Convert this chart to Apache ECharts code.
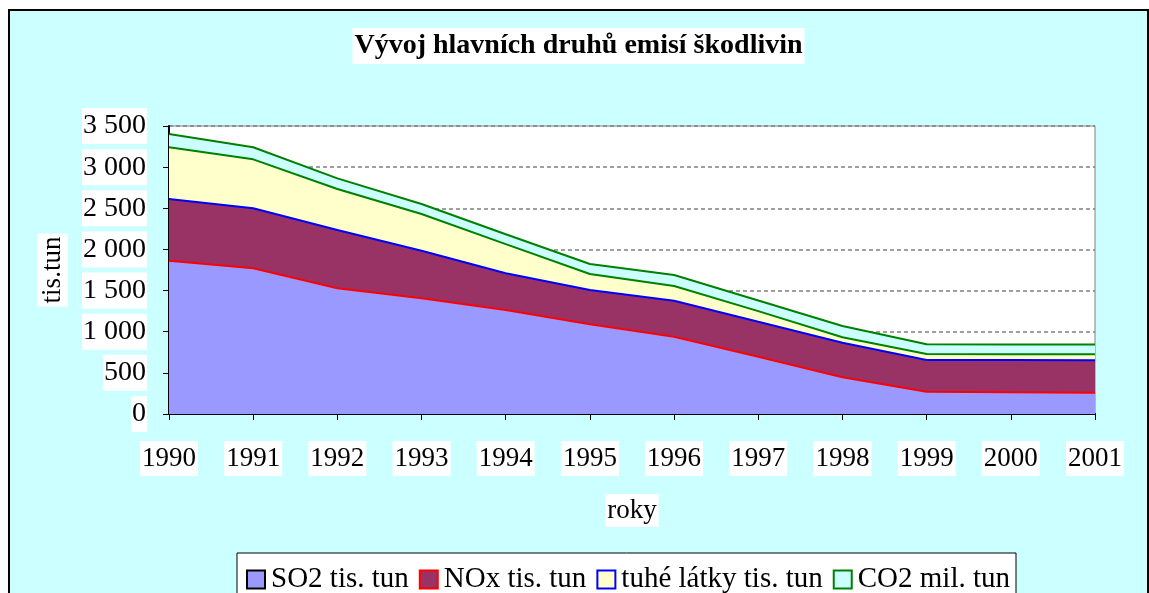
<!DOCTYPE html>
<html>
<head>
<meta charset="utf-8">
<script src="https://cdn.jsdelivr.net/npm/echarts@6/dist/echarts.min.js"></script>
<style>
  html, body { margin: 0; padding: 0; background: #fff; overflow: hidden; width: 1149px; height: 593px; }
  #wrap { position: absolute; left: 8px; top: 9px; width: 1137px; height: 600px;
          border: 2px solid #000; border-bottom: none; }
  #chart { width: 1137px; height: 600px; }
</style>
</head>
<body>
<div id="wrap"><div id="chart"></div></div>
<script>
// roky
var years = ['1990', '1991', '1992', '1993', '1994', '1995', '1996', '1997', '1998', '1999', '2000', '2001']
// emise
var so2 = [1863, 1771, 1528, 1406, 1264, 1090, 939, 696, 446, 271, 264, 259]
var nox = [750, 729, 708, 579, 446, 417, 438, 424, 421, 385, 392, 395]
var tuhe = [628, 595, 498, 446, 354, 194, 179, 130, 65, 73, 69, 72]
var co2 = [162, 146, 130, 121, 121, 122, 133, 129, 137, 118, 120, 120]

var font = 'Liberation Serif, Times New Roman, serif'

var myChart = echarts.init(document.getElementById('chart'))

// jedna vrstva plošného grafu
function area (name, data, fill, line) {
  return {
    name: name,
    type: 'line',
    stack: 'total',
    data: data,
    symbol: 'none',
    lineStyle: { color: line, width: 2 },
    itemStyle: { color: fill },
    areaStyle: { color: fill, opacity: 1 }
  }
}

myChart.setOption({
  backgroundColor: '#CCFFFF',
  animation: false,
  title: {
    text: 'Vývoj hlavních druhů emisí škodlivin',
    left: 'center',
    top: 17,
    padding: [4, 2, 4, 2],
    backgroundColor: '#fff',
    textStyle: { fontFamily: font, fontSize: 28, fontWeight: 'bold', color: '#000' }
  },
  grid: {
    left: 159,
    top: 115,
    width: 926,
    height: 288,
    show: true,
    backgroundColor: '#fff',
    borderColor: '#808080',
    borderWidth: 1
  },
  legend: {
    left: 227,
    top: 542,
    orient: 'horizontal',
    backgroundColor: '#fff',
    borderColor: '#000',
    borderWidth: 1,
    padding: [12, 6, 20, 9],
    itemWidth: 18,
    itemHeight: 18,
    itemGap: 10,
    textStyle: { fontFamily: font, fontSize: 29, color: '#000', padding: [0, 0, 0, 1] },
    data: [
      { name: 'SO2 tis. tun', icon: 'rect', itemStyle: { color: '#9999FF', borderColor: '#000', borderWidth: 2 } },
      { name: 'NOx tis. tun', icon: 'rect', itemStyle: { color: '#993366', borderColor: '#FF0000', borderWidth: 2 } },
      { name: 'tuhé látky tis. tun', icon: 'rect', itemStyle: { color: '#FFFFCC', borderColor: '#0000FF', borderWidth: 2 } },
      { name: 'CO2 mil. tun', icon: 'rect', itemStyle: { color: '#CCFFFF', borderColor: '#008000', borderWidth: 2 } }
    ]
  },
  xAxis: {
    type: 'category',
    data: years,
    boundaryGap: false,
    name: 'roky',
    nameLocation: 'middle',
    nameGap: 80,
    nameTextStyle: { fontFamily: font, fontSize: 27, color: '#000', backgroundColor: '#fff', padding: [3, 2, 3, 2] },
    axisLine: { lineStyle: { color: '#000', width: 2 } },
    axisTick: { show: true, alignWithLabel: true, length: 6, lineStyle: { color: '#000' } },
    axisLabel: {
      fontFamily: font, fontSize: 27, color: '#000', margin: 27,
      backgroundColor: '#fff', padding: [4, 2, 4, 2]
    },
    splitLine: { show: false }
  },
  yAxis: {
    type: 'value',
    min: 0,
    max: 3500,
    interval: 500,
    name: 'tis.tun',
    nameLocation: 'middle',
    nameGap: 101,
    nameRotate: 90,
    nameTextStyle: { fontFamily: font, fontSize: 27, color: '#000', backgroundColor: '#fff', padding: [2, 3, 2, 3] },
    axisLine: { show: true, lineStyle: { color: '#000', width: 2 } },
    axisTick: { show: true, length: 6, lineStyle: { color: '#000' } },
    axisLabel: {
      fontFamily: font, fontSize: 28, color: '#000', margin: 22,
      backgroundColor: '#fff', padding: [4, 1, 4, 1],
      formatter: function (v) { return String(v).replace(/\B(?=(\d{3})+(?!\d))/g, ' ') }
    },
    splitLine: { show: true, lineStyle: { color: '#808080', type: [4, 3], width: 1.5 } }
  },
  series: [
    area('SO2 tis. tun', so2, '#9999FF', '#FF0000'),
    area('NOx tis. tun', nox, '#993366', '#0000FF'),
    area('tuhé látky tis. tun', tuhe, '#FFFFCC', '#008000'),
    area('CO2 mil. tun', co2, '#CCFFFF', '#008000')
  ]
})
</script>
</body>
</html>
